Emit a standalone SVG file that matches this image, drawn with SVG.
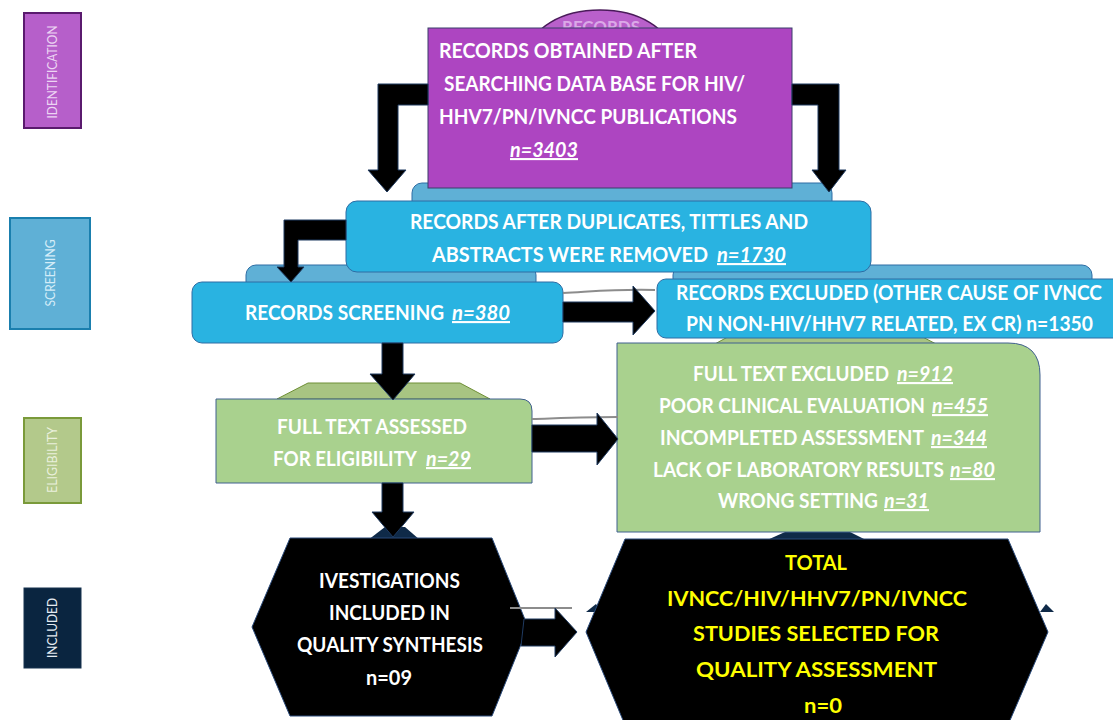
<svg xmlns="http://www.w3.org/2000/svg" width="1113" height="720" viewBox="0 0 1113 720">
<style>
.t{font-family:Lato,"Liberation Sans",sans-serif;font-weight:700;font-size:19px;fill:#ffffff}
.y{fill:#ffff00}
.n{font-style:italic;text-decoration:underline}
.e{text-anchor:end}
.m{text-anchor:middle}
.lab{font-family:Lato,"Liberation Sans",sans-serif;font-size:13px;text-anchor:middle}
.blue{fill:#29b3e1;stroke:#2e6da4;stroke-width:1}
.blueback{fill:#5fb0d6;stroke:#2e6da4;stroke-width:1}
.green{fill:#a9d18e;stroke:#41608f;stroke-width:1}
.greenback{fill:#a8c482;stroke:#6f8f36;stroke-width:1}
.hex{fill:#000000;stroke:#2a4a7a;stroke-width:1}
.arr{fill:#000000;stroke:#1f3a60;stroke-width:1}
.gray{fill:none;stroke:#8c8c8c;stroke-width:2}
</style>

<g id="stage-labels">
  <g id="label-identification">
    <rect x="24" y="13" width="57" height="115" fill="#b65fca" stroke="#5a1a6e" stroke-width="2"/>
    <text class="lab" transform="translate(57,72) rotate(-90)" fill="#ecd4f3" textLength="93" lengthAdjust="spacingAndGlyphs">IDENTIFICATION</text>
  </g>
  <g id="label-screening">
    <rect x="10" y="218" width="80" height="111" fill="#5fb0d6" stroke="#1a7fae" stroke-width="2"/>
    <text class="lab" transform="translate(55,273) rotate(-90)" fill="#d3ecf8" textLength="67" lengthAdjust="spacingAndGlyphs">SCREENING</text>
  </g>
  <g id="label-eligibility">
    <rect x="24" y="418" width="57" height="85" fill="#b3c98b" stroke="#7a9a3a" stroke-width="2"/>
    <text class="lab" transform="translate(57,460) rotate(-90)" fill="#eaf0dc" textLength="66" lengthAdjust="spacingAndGlyphs">ELIGIBILITY</text>
  </g>
  <g id="label-included">
    <rect x="24" y="588" width="57" height="80" fill="#0a2540" stroke="#17324f" stroke-width="1"/>
    <text class="lab" transform="translate(57,628) rotate(-90)" fill="#e6ecf2" textLength="60" lengthAdjust="spacingAndGlyphs">INCLUDED</text>
  </g>
</g>

<g id="background-shapes">
  <ellipse cx="600" cy="52" rx="70" ry="42" fill="#b960cb" stroke="#4a1a5a" stroke-width="1.5"/>
  <text class="t m" transform="translate(601,33) scale(1,1.1)" style="fill:#dba9e8;font-size:16px" textLength="78" lengthAdjust="spacingAndGlyphs">RECORDS</text>
  <rect class="blueback" x="412" y="183" width="420" height="60" rx="10"/>
  <rect class="blueback" x="246" y="265" width="290" height="40" rx="10"/>
  <rect class="blueback" x="673" y="265" width="419" height="40" rx="10"/>
  <polygon class="greenback" points="277,399 308,383 460,383 490,399"/>
  <polygon class="greenback" points="713,345 735,333 915,333 938,345"/>
  <polygon fill="#0f2a48" points="368,540 385,527 405,527 420,540"/>
  <polygon fill="#0f2a48" points="765,541 785,532 850,532 868,541"/>
  <polygon fill="#0f2a48" points="586,612 596,604 602,612"/>
  <polygon fill="#0f2a48" points="1040,612 1046,604 1054,612"/>
</g>

<g id="node-records-obtained">
  <rect x="428" y="28" width="364" height="160" fill="#ad45c1" stroke="#3b3f6a" stroke-width="1"/>
  <text class="t" transform="translate(439,58) scale(1,1.1)" textLength="258" lengthAdjust="spacingAndGlyphs">RECORDS  OBTAINED AFTER</text>
  <text class="t" transform="translate(444,91) scale(1,1.1)" textLength="301" lengthAdjust="spacingAndGlyphs">SEARCHING DATA BASE FOR HIV/</text>
  <text class="t" transform="translate(439,124) scale(1,1.1)" textLength="298" lengthAdjust="spacingAndGlyphs">HHV7/PN/IVNCC PUBLICATIONS</text>
  <text class="t n" transform="translate(510,157) scale(1,1.1)" textLength="68" lengthAdjust="spacingAndGlyphs">n=3403</text>
</g>

<g id="node-after-duplicates">
  <rect class="blue" x="346" y="201" width="525" height="71" rx="11"/>
  <text class="t m" transform="translate(609,229) scale(1,1.1)" textLength="398" lengthAdjust="spacingAndGlyphs">RECORDS AFTER DUPLICATES, TITTLES AND</text>
  <text class="t e" transform="translate(708,262) scale(1,1.1)" textLength="276" lengthAdjust="spacingAndGlyphs">ABSTRACTS WERE  REMOVED</text>
  <text class="t n" transform="translate(717,262) scale(1,1.1)" textLength="69" lengthAdjust="spacingAndGlyphs">n=1730</text>
</g>

<g id="node-records-screening">
  <rect class="blue" x="192" y="282" width="371" height="61" rx="10"/>
  <text class="t e" transform="translate(444,320) scale(1,1.1)" textLength="199" lengthAdjust="spacingAndGlyphs">RECORDS SCREENING</text>
  <text class="t n" transform="translate(452,320) scale(1,1.1)" textLength="58" lengthAdjust="spacingAndGlyphs">n=380</text>
</g>

<g id="node-records-excluded">
  <rect class="blue" x="657" y="279" width="470" height="59" rx="9"/>
  <text class="t e" transform="translate(1102,300) scale(1,1.1)" textLength="426" lengthAdjust="spacingAndGlyphs">RECORDS EXCLUDED (OTHER CAUSE OF IVNCC</text>
  <text class="t e" transform="translate(1093,331) scale(1,1.1)" textLength="407" lengthAdjust="spacingAndGlyphs">PN NON-HIV/HHV7  RELATED, EX CR) n=1350</text>
</g>

<g id="node-full-text-assessed">
  <path class="green" d="M216,399 H520 Q532,399 532,411 V483 H216 Z"/>
  <text class="t m" transform="translate(372,434) scale(1,1.1)" textLength="190" lengthAdjust="spacingAndGlyphs">FULL TEXT ASSESSED</text>
  <text class="t e" transform="translate(417,466) scale(1,1.1)" textLength="144" lengthAdjust="spacingAndGlyphs">FOR ELIGIBILITY</text>
  <text class="t n" transform="translate(426,466) scale(1,1.1)" textLength="45" lengthAdjust="spacingAndGlyphs">n=29</text>
</g>

<g id="node-full-text-excluded">
  <path class="green" d="M617,343 H1008 Q1040,343 1040,375 V532 H617 Z"/>
  <text class="t e" transform="translate(889,381) scale(1,1.1)" textLength="196" lengthAdjust="spacingAndGlyphs">FULL TEXT EXCLUDED</text>
  <text class="t n" transform="translate(897,381) scale(1,1.1)" textLength="56" lengthAdjust="spacingAndGlyphs">n=912</text>
  <text class="t e" transform="translate(925,413) scale(1,1.1)" textLength="266" lengthAdjust="spacingAndGlyphs">POOR CLINICAL EVALUATION</text>
  <text class="t n" transform="translate(932,413) scale(1,1.1)" textLength="56" lengthAdjust="spacingAndGlyphs">n=455</text>
  <text class="t e" transform="translate(924,445) scale(1,1.1)" textLength="264" lengthAdjust="spacingAndGlyphs">INCOMPLETED ASSESSMENT</text>
  <text class="t n" transform="translate(931,445) scale(1,1.1)" textLength="56" lengthAdjust="spacingAndGlyphs">n=344</text>
  <text class="t e" transform="translate(944,477) scale(1,1.1)" textLength="291" lengthAdjust="spacingAndGlyphs">LACK OF LABORATORY RESULTS</text>
  <text class="t n" transform="translate(950,477) scale(1,1.1)" textLength="45" lengthAdjust="spacingAndGlyphs">n=80</text>
  <text class="t e" transform="translate(878,508) scale(1,1.1)" textLength="160" lengthAdjust="spacingAndGlyphs">WRONG SETTING</text>
  <text class="t n" transform="translate(884,508) scale(1,1.1)" textLength="45" lengthAdjust="spacingAndGlyphs">n=31</text>
</g>

<g id="node-investigations-included">
  <polygon class="hex" points="290,538 492,538 528,627 492,716 290,716 252,627"/>
  <text class="t m" transform="translate(389.5,588) scale(1,1.1)" textLength="141" lengthAdjust="spacingAndGlyphs">IVESTIGATIONS</text>
  <text class="t m" transform="translate(389.5,620) scale(1,1.1)" textLength="121" lengthAdjust="spacingAndGlyphs">INCLUDED IN</text>
  <text class="t m" transform="translate(390,652) scale(1,1.1)" textLength="186" lengthAdjust="spacingAndGlyphs">QUALITY SYNTHESIS</text>
  <text class="t m" transform="translate(389,685) scale(1,1.1)" textLength="46" lengthAdjust="spacingAndGlyphs">n=09</text>
</g>

<g id="node-total-studies">
  <polygon class="hex" points="625,539 1008,539 1048,632 1008,725 625,725 586,632"/>
  <text class="t y m" transform="translate(816,570) scale(1,1.1)" textLength="62" lengthAdjust="spacingAndGlyphs">TOTAL</text>
  <text class="t y m" transform="translate(817,606) scale(1,1.1)" textLength="300" lengthAdjust="spacingAndGlyphs">IVNCC/HIV/HHV7/PN/IVNCC</text>
  <text class="t y m" transform="translate(816,641) scale(1,1.1)" textLength="246" lengthAdjust="spacingAndGlyphs">STUDIES  SELECTED FOR</text>
  <text class="t y m" transform="translate(816.5,677) scale(1,1.1)" textLength="241" lengthAdjust="spacingAndGlyphs">QUALITY  ASSESSMENT</text>
  <text class="t y m" transform="translate(823,713) scale(1,1.1)" textLength="38" lengthAdjust="spacingAndGlyphs">n=0</text>
</g>

<g id="connectors">
  <path class="gray" d="M563,293 C600,291 620,289 655,290"/>
  <path class="gray" d="M532,419 C565,418 590,417 618,417"/>
  <path class="gray" d="M510,608 H572"/>
  <polygon class="arr" points="428,84 378,84 378,170 368,170 387,192 406,170 398,170 398,105 428,105"/>
  <polygon class="arr" points="792,84 839,84 839,170 846,170 829,192 812,170 818,170 818,105 792,105"/>
  <polygon class="arr" points="346,220 284,220 284,267 277,267 291,282 304,267 298,267 298,240 346,240"/>
  <polygon class="arr" points="563,302 633,302 633,286 655,311 633,335 633,322 563,322"/>
  <polygon class="arr" points="382,343 403,343 403,374 415,374 393,400 370,374 382,374"/>
  <polygon class="arr" points="532,425 597,425 597,413 618,439 597,465 597,452 532,452"/>
  <polygon class="arr" points="382,483 403,483 403,512 414,512 393,537 372,512 382,512"/>
  <polygon class="arr" points="524,619 555,619 555,608 577,632 555,657 555,646 521,646"/>
</g>
</svg>
